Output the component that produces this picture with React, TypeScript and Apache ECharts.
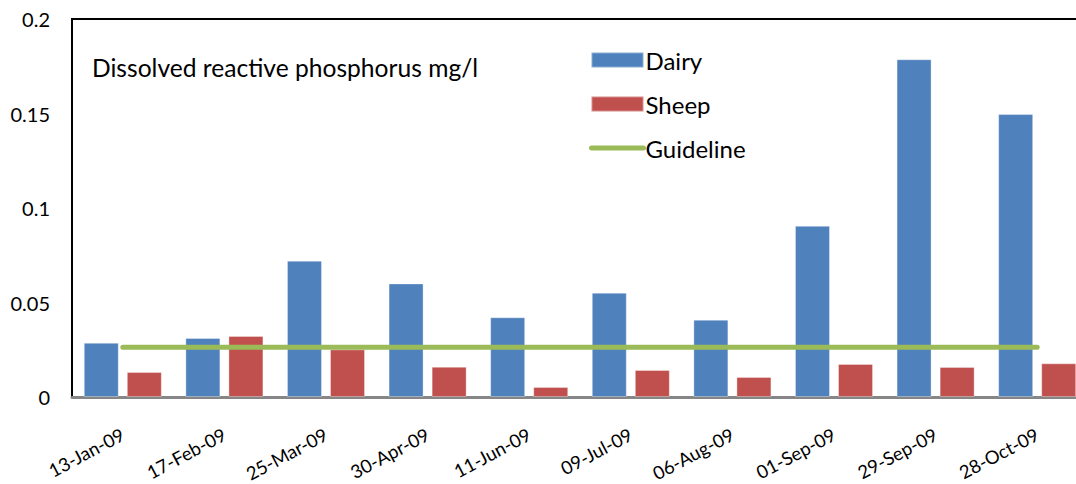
import React, { useEffect, useRef } from "react";
import * as echarts from "echarts";

const categories = [
  "13-Jan-09",
  "17-Feb-09",
  "25-Mar-09",
  "30-Apr-09",
  "11-Jun-09",
  "09-Jul-09",
  "06-Aug-09",
  "01-Sep-09",
  "29-Sep-09",
  "28-Oct-09",
];
const dairy = [0.0287, 0.0312, 0.0721, 0.0601, 0.0422, 0.0552, 0.0409, 0.0906, 0.1787, 0.1497];
const sheep = [0.0132, 0.0323, 0.0252, 0.016, 0.0053, 0.0143, 0.0106, 0.0175, 0.0159, 0.0178];
const guideline = [0.0263, 0.0263, 0.0263, 0.0263, 0.0263, 0.0263, 0.0263, 0.0263, 0.0263, 0.0263];
const yTicks = { min: 0, max: 0.2, interval: 0.05 };
const titleText = "Dissolved reactive phosphorus mg/l";

const FONT = "Lato";

export default function App() {
  const ref = useRef<HTMLDivElement>(null);
  useEffect(() => {
    if (!ref.current) return;
    const chart = echarts.init(ref.current, undefined, { renderer: "svg" });
    chart.setOption({
      animation: false,
      backgroundColor: "#ffffff",
      textStyle: { fontFamily: FONT },
      title: {
        text: titleText,
        left: 92,
        top: 55,
        padding: 0,
        textStyle: { fontFamily: FONT, fontSize: 24.6, fontWeight: "normal", color: "#000" },
      },
      legend: {
        orient: "vertical",
        left: 589,
        top: 47.5,
        padding: 0,
        itemWidth: 52,
        itemHeight: 15,
        itemGap: 19,
        textStyle: { fontFamily: FONT, fontSize: 24, color: "#000", lineHeight: 25, padding: [0, 0, 0, -3] },
        lineStyle: { width: 5, cap: "round" },
        data: [
          { name: "Dairy", icon: "rect" },
          { name: "Sheep", icon: "rect" },
          { name: "Guideline", itemStyle: { opacity: 0 } },
        ],
      },
      grid: {
        left: 72,
        top: 19,
        width: 1016,
        height: 378,
        outerBoundsMode: "none",
        containLabel: false,
        show: true,
        borderColor: "#000",
        borderWidth: 2,
        backgroundColor: "transparent",
      },
      xAxis: {
        type: "category",
        data: categories,
        axisLine: { lineStyle: { color: "#868686", width: 3 } },
        axisTick: { show: false },
        axisLabel: {
          interval: 0,
          rotate: 28,
          margin: 36,
          fontFamily: FONT,
          fontSize: 18.5,
          color: "#000",
        },
      },
      yAxis: {
        type: "value",
        min: yTicks.min,
        max: yTicks.max,
        interval: yTicks.interval,
        axisLine: { show: true, lineStyle: { color: "#000", width: 2 } },
        axisTick: { show: false },
        splitLine: { show: false },
        axisLabel: { margin: 22, fontFamily: FONT, fontSize: 20, color: "#000" },
      },
      series: [
        {
          name: "Dairy",
          type: "bar",
          data: dairy,
          barWidth: 35,
          barGap: "23%",
          itemStyle: { color: "#4F81BD", borderColor: "rgba(255,255,255,0.35)", borderWidth: 1 },
        },
        {
          name: "Sheep",
          type: "bar",
          data: sheep,
          barWidth: 35,
          itemStyle: { color: "#C0504D", borderColor: "rgba(255,255,255,0.35)", borderWidth: 1 },
        },
        {
          name: "Guideline",
          type: "line",
          data: guideline,
          symbol: "none",
          showSymbol: false,
          lineStyle: { color: "#9BBB59", width: 5, cap: "round" },
          itemStyle: { color: "#9BBB59" },
          z: 5,
        },
      ],
    });
    return () => chart.dispose();
  }, []);
  return (
    <div
      ref={ref}
      style={{ position: "fixed", left: 0, top: 0, width: 1076, height: 484 }}
    />
  );
}
